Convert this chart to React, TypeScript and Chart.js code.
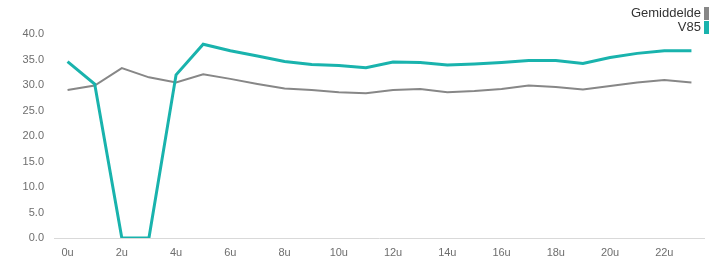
import React, { useEffect, useRef } from "react";
import { Chart, registerables } from "chart.js";

Chart.register(...registerables);

const hours: string[] = [
  "0u", "1u", "2u", "3u", "4u", "5u", "6u", "7u", "8u", "9u", "10u", "11u",
  "12u", "13u", "14u", "15u", "16u", "17u", "18u", "19u", "20u", "21u", "22u", "23u",
];

const gemiddelde: number[] = [
  29.0, 29.9, 33.3, 31.5, 30.5, 32.1, 31.2, 30.2, 29.3, 29.0, 28.6, 28.4,
  29.0, 29.2, 28.6, 28.8, 29.2, 29.9, 29.6, 29.1, 29.8, 30.5, 31.0, 30.5,
];

const v85: number[] = [
  34.6, 30.2, 0, 0, 32.0, 38.0, 36.7, 35.7, 34.6, 34.0, 33.8, 33.4,
  34.5, 34.4, 33.9, 34.1, 34.4, 34.8, 34.8, 34.2, 35.4, 36.2, 36.7, 36.7,
];

const seriesNames: string[] = ["Gemiddelde", "V85"];
const seriesColors: string[] = ["#878787", "#19b3ad"];

const FONT = "'Liberation Sans', Arial, Helvetica, sans-serif";

export default function App() {
  const canvasRef = useRef<HTMLCanvasElement | null>(null);

  useEffect(() => {
    document.body.style.margin = "0";
    const canvas = canvasRef.current;
    if (!canvas) return;
    const chart = new Chart(canvas, {
      type: "line",
      data: {
        labels: hours,
        datasets: [
          {
            label: seriesNames[0],
            data: gemiddelde,
            borderColor: seriesColors[0],
            backgroundColor: seriesColors[0],
            borderWidth: 2,
            pointRadius: 0,
            tension: 0,
            order: 2,
          },
          {
            label: seriesNames[1],
            data: v85,
            borderColor: seriesColors[1],
            backgroundColor: seriesColors[1],
            borderWidth: 3,
            pointRadius: 0,
            tension: 0,
            order: 1,
          },
        ],
      },
      options: {
        animation: false,
        responsive: false,
        devicePixelRatio: 1,
        layout: { padding: { top: 34, right: 5, left: 0, bottom: 0 } },
        plugins: { legend: { display: false }, tooltip: { enabled: false } },
        scales: {
          x: {
            type: "category",
            offset: true,
            grid: { display: false },
            border: { display: false },
            ticks: {
              autoSkip: false,
              maxRotation: 0,
              padding: 0,
              color: "#6e6e6e",
              font: { family: FONT, size: 11 },
              callback: (_v: any, i: number) => (i % 2 === 0 ? hours[i] : ""),
            },
            afterFit: (s: any) => {
              s.height = 24;
            },
          },
          y: {
            min: 0,
            max: 40,
            border: { display: false },
            grid: {
              drawTicks: false,
              color: (ctx: any) => (ctx.tick && ctx.tick.value === 0 ? "#d9d9d9" : "rgba(0,0,0,0)"),
            },
            ticks: {
              stepSize: 5,
              padding: 10,
              color: "#6e6e6e",
              font: { family: FONT, size: 11 },
              callback: (v: any) => Number(v).toFixed(1),
            },
            afterFit: (s: any) => {
              s.width = 54;
            },
          },
        },
      },
    });
    return () => chart.destroy();
  }, []);

  return (
    <div style={{ position: "relative", width: 710, height: 262, background: "#fff" }}>
      <canvas ref={canvasRef} width={710} height={262} style={{ display: "block" }} />
      <div style={{ position: "absolute", right: 1, top: 6 }}>
        {seriesNames.map((name, i) => (
          <div
            key={name}
            style={{ display: "flex", justifyContent: "flex-end", alignItems: "center", height: 14 }}
          >
            <span
              style={{
                fontFamily: FONT,
                fontSize: 13,
                lineHeight: "14px",
                color: "#333",
                marginRight: 3,
                whiteSpace: "nowrap",
              }}
            >
              {name}
            </span>
            <span style={{ display: "inline-block", width: 5, height: 13, background: seriesColors[i] }} />
          </div>
        ))}
      </div>
    </div>
  );
}
